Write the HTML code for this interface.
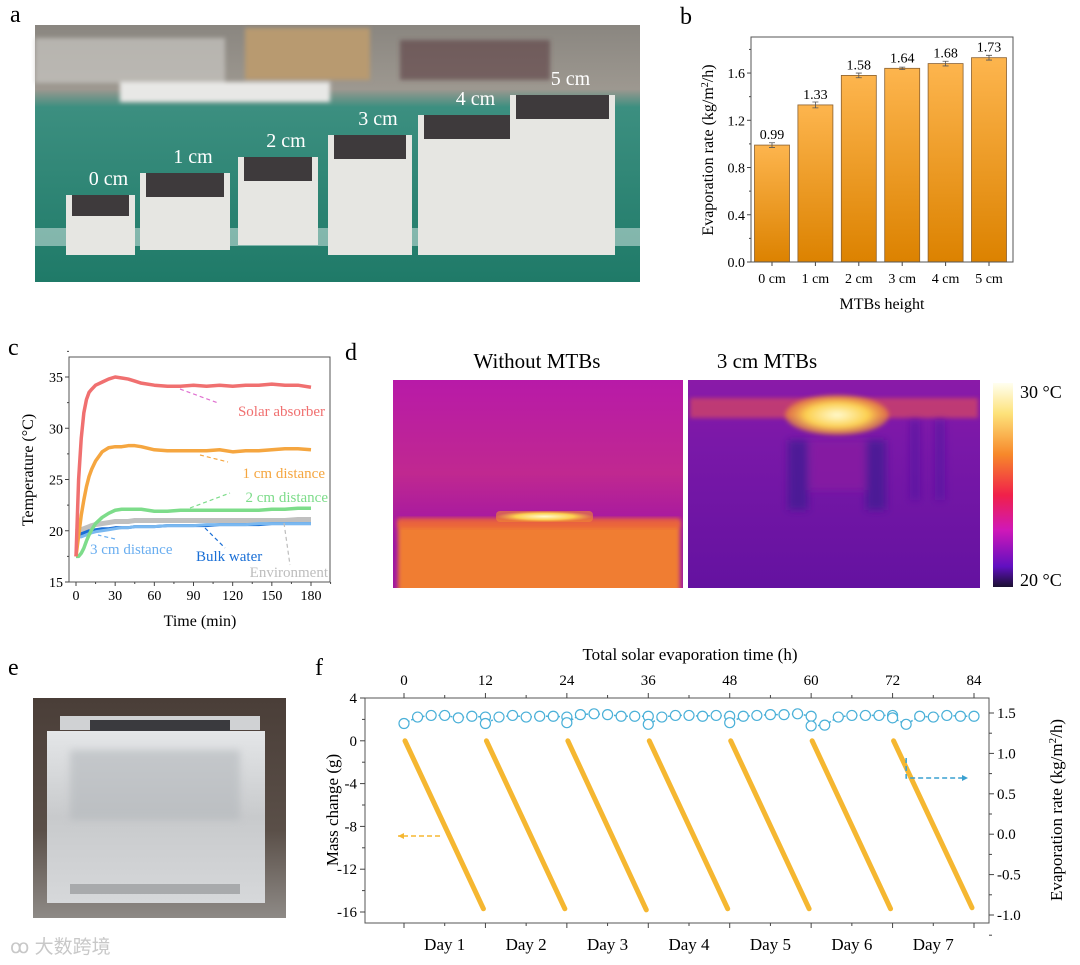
<!DOCTYPE html>
<html><head><meta charset="utf-8"><style>
html,body{margin:0;padding:0;background:#fff;}
svg{display:block;font-family:"Liberation Serif",serif;}
</style></head><body>
<svg id="fig" width="1080" height="965" viewBox="0 0 1080 965" xmlns="http://www.w3.org/2000/svg">
<defs>
<linearGradient id="barG" x1="0" y1="0" x2="0" y2="1"><stop offset="0" stop-color="#fdb54e"/><stop offset="1" stop-color="#dc8200"/></linearGradient>
<linearGradient id="cbar" x1="0" y1="0" x2="0" y2="1"><stop offset="0" stop-color="#fffff0"/><stop offset="0.15" stop-color="#fde27a"/><stop offset="0.35" stop-color="#f7882a"/><stop offset="0.55" stop-color="#f0204a"/><stop offset="0.72" stop-color="#d018b8"/><stop offset="0.9" stop-color="#6010c0"/><stop offset="1" stop-color="#1a1030"/></linearGradient>
<linearGradient id="leftBg" x1="0" y1="0" x2="0" y2="1"><stop offset="0" stop-color="#b81aa8"/><stop offset="0.45" stop-color="#c02890"/><stop offset="0.8" stop-color="#9a12a8"/><stop offset="1" stop-color="#a018a0"/></linearGradient>
<linearGradient id="rightBg" x1="0" y1="0" x2="0" y2="1"><stop offset="0" stop-color="#8a1aa8"/><stop offset="0.3" stop-color="#7a18a8"/><stop offset="1" stop-color="#6412a0"/></linearGradient>
<linearGradient id="photoA" x1="0" y1="0" x2="0" y2="1"><stop offset="0" stop-color="#8a8680"/><stop offset="0.25" stop-color="#9d9890"/><stop offset="0.32" stop-color="#3c8f80"/><stop offset="1" stop-color="#1f7a68"/></linearGradient>
<linearGradient id="photoE" x1="0" y1="0" x2="0" y2="1"><stop offset="0" stop-color="#4a3e38"/><stop offset="0.6" stop-color="#5a4f48"/><stop offset="1" stop-color="#8e8a86"/></linearGradient>
<linearGradient id="cube" x1="0" y1="0" x2="0" y2="1"><stop offset="0" stop-color="#e4e6e8"/><stop offset="0.5" stop-color="#c8cacc"/><stop offset="1" stop-color="#d6d8da"/></linearGradient>
<radialGradient id="hot" cx="0.5" cy="0.5" r="0.5"><stop offset="0" stop-color="#fffbd0"/><stop offset="0.6" stop-color="#fcd050"/><stop offset="1" stop-color="#f08a30" stop-opacity="0.6"/></radialGradient>
<filter id="blur4" x="-20%" y="-20%" width="140%" height="140%"><feGaussianBlur stdDeviation="4"/></filter>
<filter id="blur2" x="-20%" y="-20%" width="140%" height="140%"><feGaussianBlur stdDeviation="2"/></filter>
<clipPath id="clipL"><rect x="393" y="380" width="290" height="208"/></clipPath>
<clipPath id="clipR"><rect x="688" y="380" width="292" height="208"/></clipPath>
</defs>

<text x="10" y="22" font-size="24">a</text>
<text x="680" y="24" font-size="24">b</text>
<text x="8" y="355" font-size="24">c</text>
<text x="345" y="360" font-size="24">d</text>
<text x="8" y="675" font-size="24">e</text>
<text x="315" y="675" font-size="24">f</text>

<g>
<rect x="35" y="25" width="605" height="257" fill="url(#photoA)"/>
<g filter="url(#blur2)">
<rect x="35" y="38" width="190" height="45" fill="#c8c6c2" opacity="0.7"/>
<rect x="245" y="28" width="125" height="52" fill="#b89a70"/>
<rect x="120" y="82" width="210" height="20" fill="#e8e8e6"/>
<rect x="400" y="40" width="150" height="40" fill="#5a3a40" opacity="0.6"/>
</g>
<rect x="35" y="228" width="605" height="18" fill="#cfe3e0" opacity="0.55"/>
<g id="blocks"></g>
</g>

<g>
<rect x="33" y="698" width="253" height="220" fill="url(#photoE)"/>
<rect x="60" y="716" width="200" height="14" fill="#d0d2d4"/>
<rect x="90" y="720" width="140" height="16" fill="#3a3a3e"/>
<rect x="47" y="731" width="218" height="172" fill="url(#cube)"/>
<rect x="70" y="750" width="170" height="70" fill="#b4b8bc" opacity="0.6" filter="url(#blur4)"/>
<rect x="70" y="884" width="170" height="10" fill="#a8aaac"/>
</g>
<text x="10" y="953" font-size="19" fill="#c8c8c8" font-family="'Liberation Sans','Noto Sans CJK SC',sans-serif">ꝏ 大数跨境</text>

<g>
<text x="537" y="368" font-size="21" text-anchor="middle">Without MTBs</text>
<rect x="393" y="380" width="290" height="208" fill="url(#leftBg)"/>
<g clip-path="url(#clipL)">
<rect x="398" y="520" width="282" height="75" fill="#f07d30" filter="url(#blur2)"/>
<rect x="398" y="518" width="282" height="10" fill="#e85a40" opacity="0.7" filter="url(#blur2)"/>
<rect x="496" y="511" width="97" height="11" rx="4" fill="url(#hot)"/>
</g>
</g>
<g>
<text x="767" y="368" font-size="21" text-anchor="middle">3 cm MTBs</text>
<rect x="688" y="380" width="292" height="208" fill="url(#rightBg)"/>
<g clip-path="url(#clipR)">
<rect x="690" y="398" width="288" height="20" fill="#d84a60" opacity="0.7" filter="url(#blur2)"/>
<g filter="url(#blur4)">
<rect x="788" y="440" width="20" height="70" fill="#3a1890" opacity="0.7"/>
<rect x="866" y="440" width="20" height="70" fill="#3a1890" opacity="0.7"/>
<rect x="810" y="440" width="55" height="50" fill="#8a1aa0" opacity="0.7"/>
<rect x="910" y="420" width="10" height="80" fill="#5018a0" opacity="0.6"/>
<rect x="935" y="420" width="10" height="80" fill="#5018a0" opacity="0.6"/>
</g>
<ellipse cx="837" cy="415" rx="52" ry="20" fill="url(#hot)" filter="url(#blur2)"/>
</g>
</g>
<g>
<rect x="993" y="383" width="20" height="204" fill="url(#cbar)"/>
<text x="1020" y="398" font-size="18">30 °C</text>
<text x="1020" y="586" font-size="18">20 °C</text>
</g>

<g id="chartB"></g>
<g id="chartC"></g>
<g id="chartF"></g>
</svg>
<script>
const NS="http://www.w3.org/2000/svg";
function mk(parent,tag,attrs,text){const e=document.createElementNS(NS,tag);for(const k in attrs)e.setAttribute(k,attrs[k]);if(text!==undefined)e.textContent=text;parent.appendChild(e);return e;}

const blocksG=document.getElementById('blocks');
const blockLabels=["0 cm","1 cm","2 cm","3 cm","4 cm","5 cm"];
const blockBox=[[66,195,135,255],[140,173,230,250],[238,157,318,245],[328,135,412,255],[418,115,517,255],[510,95,615,255]];
blockBox.forEach((b,i)=>{
  const body=mk(blocksG,'rect',{x:b[0],y:b[1],width:b[2]-b[0],height:b[3]-b[1],fill:'#e6e6e2'});
  
  
  mk(blocksG,'rect',{x:b[0]+6,y:b[1],width:b[2]-b[0]-12,height:Math.min(24,(b[3]-b[1])*0.35),fill:'#3e3a3c'});
  const t=mk(blocksG,'text',{x:(b[0]+b[2])/2+8,y:b[1]-10,'font-size':20,fill:'#fff','text-anchor':'middle'},blockLabels[i]);
  
  
});

const bCats=["0 cm","1 cm","2 cm","3 cm","4 cm","5 cm"];
const bVals=[0.99,1.33,1.58,1.64,1.68,1.73];
const bErr=[0.02,0.025,0.02,0.01,0.02,0.02];
const bTicks=[0.0,0.4,0.8,1.2,1.6];
(function(){
  const g=document.getElementById('chartB');
  const L=751,R=1013,T=37,B=262;
  const y=v=>B-v*118.1, x=i=>772+i*43.4;
  bCats.forEach((c,i)=>{
    const r=mk(g,'rect',{x:x(i)-17.5,y:y(bVals[i]),width:35,height:B-y(bVals[i]),fill:'url(#barG)',stroke:'#8a6030','stroke-width':0.8});
    
    
    mk(g,'path',{d:`M${x(i)} ${y(bVals[i]+bErr[i])}V${y(bVals[i]-bErr[i])}M${x(i)-3} ${y(bVals[i]+bErr[i])}h6M${x(i)-3} ${y(bVals[i]-bErr[i])}h6`,stroke:'#555','stroke-width':0.8});
    const vl=mk(g,'text',{x:x(i),y:y(bVals[i])-6,'font-size':14,'text-anchor':'middle'},bVals[i].toFixed(2));
    
    
    const xl=mk(g,'text',{x:x(i),y:283,'font-size':14,'text-anchor':'middle'},c);
    
    
    mk(g,'line',{x1:x(i),x2:x(i),y1:B,y2:B+4,stroke:'#444'});
  });
  bTicks.forEach(v=>{
    mk(g,'line',{x1:L-4,x2:L,y1:y(v),y2:y(v),stroke:'#444'});
    mk(g,'line',{x1:L-2,x2:L,y1:y(v+0.2),y2:y(v+0.2),stroke:'#444'});
    const t=mk(g,'text',{x:L-6,y:y(v)+5,'font-size':14,'text-anchor':'end'},v.toFixed(1));
    
    
  });
  mk(g,'rect',{x:L,y:T,width:R-L,height:B-T,fill:'none',stroke:'#555','stroke-width':1});
  const yt=mk(g,'text',{x:0,y:0,'font-size':16,'text-anchor':'middle',transform:`translate(713,150) rotate(-90)`});
  yt.innerHTML='Evaporation rate (kg/m<tspan baseline-shift="super" font-size="10">2</tspan>/h)';
  
  
  const xt=mk(g,'text',{x:882,y:309,'font-size':16,'text-anchor':'middle'},'MTBs height');
  
  
})();

const cTime=[0,2,4,6,8,10,12,15,20,25,30,35,40,45,50,60,70,80,90,100,110,120,130,140,150,160,170,180];
const cSolar=[17.5,25,29,31.5,32.8,33.5,33.8,34.2,34.5,34.8,35,34.9,34.8,34.6,34.4,34.2,34.1,34.1,34.2,34.1,34.2,34.1,34.2,34.2,34.3,34.2,34.2,34.0];
const c1cm=[17.5,19.5,21.5,23,24.3,25.3,26,26.8,27.7,28.1,28.2,28.2,28.3,28.3,28.2,27.9,27.8,27.8,27.8,27.8,27.9,27.7,27.8,27.8,27.9,28,28,27.9];
const c2cm=[17.5,17.5,17.8,18.3,19,19.6,20.1,20.7,21.3,21.7,22,22.1,22.1,22.1,22.1,21.9,21.9,22,22,22,22,22,22,22,22.1,22.1,22.2,22.2];
const c3cm=[19.4,19.4,19.4,19.5,19.6,19.7,19.8,19.9,20,20.1,20.2,20.3,20.3,20.4,20.4,20.4,20.5,20.5,20.5,20.6,20.6,20.6,20.6,20.7,20.7,20.7,20.7,20.7];
const cBulk=[19.6,19.6,19.7,19.8,19.9,20,20,20.1,20.2,20.2,20.3,20.3,20.3,20.4,20.4,20.4,20.5,20.5,20.5,20.5,20.6,20.6,20.6,20.6,20.7,20.7,20.7,20.7];
const cEnv=[19.9,20,20.1,20.2,20.3,20.4,20.5,20.6,20.7,20.8,20.9,20.9,20.9,21,21,21,21,21,21,21,21,21,21,21,21,21,21.1,21.1];
const cXTicks=[0,30,60,90,120,150,180];
const cYTicks=[15,20,25,30,35];
(function(){
  const g=document.getElementById('chartC');
  const L=69,R=330,T=357,B=582;
  const x=t=>76+t*(235/180), y=v=>B-(v-15)*10.25;
  const series=[[cEnv,'#c0c0c0',5,'series-environment'],[cBulk,'#1a6fd6',3,'series-bulk-water'],[c3cm,'#7ab8f0',3,'series-3cm'],[c2cm,'#7ddc8a',3.5,'series-2cm'],[c1cm,'#f5a640',3.5,'series-1cm'],[cSolar,'#f07070',3.5,'series-solar-absorber']];
  series.forEach(s=>{
    const p=mk(g,'polyline',{points:cTime.map((t,i)=>x(t)+','+y(s[0][i])).join(' '),fill:'none',stroke:s[1],'stroke-width':s[2],'stroke-linejoin':'round'});
    
    
  });
  mk(g,'rect',{x:L,y:T,width:R-L,height:B-T,fill:'none',stroke:'#555'});
  cXTicks.forEach(t=>{
    mk(g,'line',{x1:x(t),x2:x(t),y1:B,y2:B+4,stroke:'#444'});
    mk(g,'line',{x1:x(t+15),x2:x(t+15),y1:B,y2:B+2,stroke:'#444'});
    const l=mk(g,'text',{x:x(t),y:600,'font-size':14,'text-anchor':'middle'},t);
    
    
  });
  cYTicks.forEach(v=>{
    mk(g,'line',{x1:L-4,x2:L,y1:y(v),y2:y(v),stroke:'#444'});
    mk(g,'line',{x1:L-2,x2:L,y1:y(v+2.5),y2:y(v+2.5),stroke:'#444'});
    const l=mk(g,'text',{x:L-6,y:y(v)+5,'font-size':14,'text-anchor':'end'},v);
    
    
  });
  const xt=mk(g,'text',{x:200,y:626,'font-size':16,'text-anchor':'middle'},'Time (min)');
  
  
  const yt=mk(g,'text',{x:0,y:0,'font-size':16,'text-anchor':'middle',transform:'translate(33,470) rotate(-90)'},'Temperature (°C)');
  
  
  const labs=[['Solar absorber',325,416,'#f07070','end',[[180,389],[218,403]],'#e070d0'],
              ['1 cm distance',325,478,'#f5a640','end',[[200,455],[228,462]],'#f5a640'],
              ['2 cm distance',328,502,'#7ddc8a','end',[[190,508],[230,493]],'#7ddc8a'],
              ['3 cm distance',90,554,'#6aaef0','start',[[115,539],[98,535]],'#6aaef0'],
              ['Bulk water',196,561,'#1a6fd6','start',[[205,528],[225,548]],'#1a6fd6'],
              ['Environment',328,577,'#bdbdbd','end',[[284,523],[290,565]],'#bdbdbd']];
  labs.forEach(a=>{
    mk(g,'line',{x1:a[5][0][0],y1:a[5][0][1],x2:a[5][1][0],y2:a[5][1][1],stroke:a[6],'stroke-width':1.2,'stroke-dasharray':'4 3'});
    const t=mk(g,'text',{x:a[1],y:a[2],'font-size':15,fill:a[3],'text-anchor':a[4]},a[0]);
    
    
  });
})();

const fDays=["Day 1","Day 2","Day 3","Day 4","Day 5","Day 6","Day 7"];
const fMassStart=[0,0,0,0,0,0,0];
const fMassEnd=[-15.7,-15.7,-15.8,-15.7,-15.7,-15.7,-15.6];
const fTopTicks=[0,12,24,36,48,60,72,84];
const fLeftTicks=[4,0,-4,-8,-12,-16];
const fRightTicks=[1.5,1.0,0.5,0.0,-0.5,-1.0];
const fRateTime=[0,2,4,6,8,10,12,12,14,16,18,20,22,24,24,26,28,30,32,34,36,36,38,40,42,44,46,48,48,50,52,54,56,58,60,60,62,64,66,68,70,72,72,74,76,78,80,82,84];
const fRateVal=[1.37,1.45,1.47,1.47,1.44,1.46,1.45,1.37,1.45,1.47,1.45,1.46,1.46,1.45,1.38,1.48,1.49,1.48,1.46,1.46,1.46,1.36,1.45,1.47,1.47,1.46,1.47,1.46,1.38,1.46,1.47,1.48,1.48,1.49,1.46,1.34,1.35,1.45,1.47,1.47,1.47,1.47,1.44,1.36,1.46,1.45,1.47,1.46,1.46];
(function(){
  const g=document.getElementById('chartF');
  const L=365,R=989,T=698,B=923;
  const x=h=>404+h*(570/84), yL=v=>698+(4-v)*(214/20), yR=v=>713+(1.5-v)*(202/2.5);
  mk(g,'rect',{x:L,y:T,width:R-L,height:B-T,fill:'none',stroke:'#555'});
  fDays.forEach((d,i)=>{
    const ln=mk(g,'line',{x1:x(12*i)+1,y1:yL(fMassStart[i]),x2:x(12*i+12)-2,y2:yL(fMassEnd[i]),stroke:'#f5b731','stroke-width':5,'stroke-linecap':'round'});
    
    
    const t=mk(g,'text',{x:x(12*i+6),y:950,'font-size':17,'text-anchor':'middle'},d);
    
    
  });
  mk(g,'polyline',{points:fRateTime.map((t,i)=>x(t)+','+yR(fRateVal[i])).join(' '),fill:'none',stroke:'#4ab0d8','stroke-width':1.5,'stroke-dasharray':'2 2'});
  fRateTime.forEach((t,i)=>{
    const c=mk(g,'circle',{cx:x(t),cy:yR(fRateVal[i]),r:5,fill:'#fff',stroke:'#4ab0d8','stroke-width':1.2});
    
    
  });
  fTopTicks.forEach(h=>{
    mk(g,'line',{x1:x(h),x2:x(h),y1:T,y2:T-5,stroke:'#444'});
    mk(g,'line',{x1:x(h),x2:x(h),y1:B,y2:B+5,stroke:'#444'});
    if(h<84){mk(g,'line',{x1:x(h+6),x2:x(h+6),y1:B,y2:B+3,stroke:'#444'});mk(g,'line',{x1:x(h+6),x2:x(h+6),y1:T,y2:T-3,stroke:'#444'});}
    const t=mk(g,'text',{x:x(h),y:685,'font-size':15,'text-anchor':'middle'},h);
    
    
  });
  fLeftTicks.forEach(v=>{
    mk(g,'line',{x1:L-5,x2:L,y1:yL(v),y2:yL(v),stroke:'#444'});
    if(v>-16)mk(g,'line',{x1:L-3,x2:L,y1:yL(v-2),y2:yL(v-2),stroke:'#444'});
    const t=mk(g,'text',{x:L-8,y:yL(v)+5,'font-size':15,'text-anchor':'end'},v);
    
    
  });
  fRightTicks.forEach(v=>{
    mk(g,'line',{x1:R,x2:R+5,y1:yR(v),y2:yR(v),stroke:'#444'});
    mk(g,'line',{x1:R,x2:R+3,y1:yR(v-0.25),y2:yR(v-0.25),stroke:'#444'});
    const t=mk(g,'text',{x:R+8,y:yR(v)+5,'font-size':15,'text-anchor':'start'},v.toFixed(1));
    
    
  });
  mk(g,'path',{d:'M440 836H398',stroke:'#f5b731','stroke-width':1.5,'stroke-dasharray':'5 3',fill:'none'});
  mk(g,'path',{d:'M398 836l6 -3v6z',fill:'#f5b731'});
  mk(g,'path',{d:`M${x(74)} 758V778H962`,stroke:'#3aa0d0','stroke-width':1.5,'stroke-dasharray':'5 3',fill:'none'});
  mk(g,'path',{d:'M968 778l-6 -3v6z',fill:'#3aa0d0'});
  const tt=mk(g,'text',{x:690,y:660,'font-size':17,'text-anchor':'middle'},'Total solar evaporation time (h)');
  
  
  const lt=mk(g,'text',{x:0,y:0,'font-size':17,'text-anchor':'middle',transform:'translate(338,810) rotate(-90)'},'Mass change (g)');
  
  
  const rt=mk(g,'text',{x:0,y:0,'font-size':17,'text-anchor':'middle',transform:'translate(1062,810) rotate(-90)'});
  rt.innerHTML='Evaporation rate (kg/m<tspan baseline-shift="super" font-size="11">2</tspan>/h)';
  
  
})();
</script>
</body></html>
